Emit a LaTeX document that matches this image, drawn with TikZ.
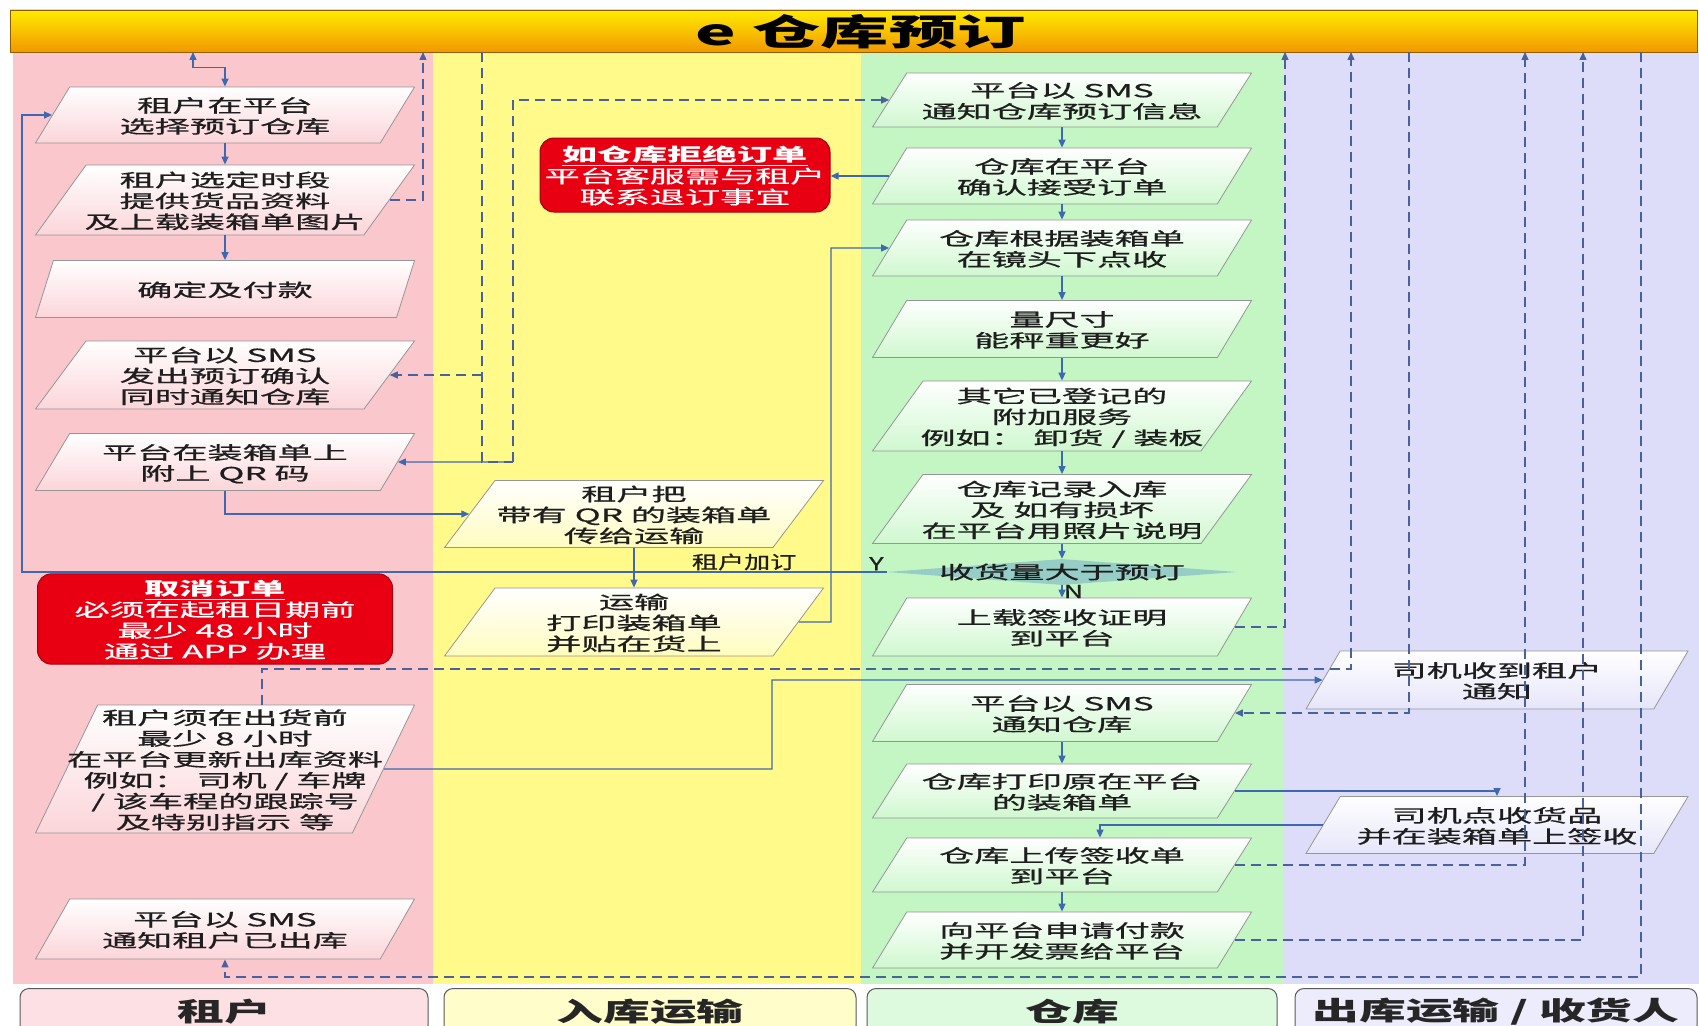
\documentclass[tikz,border=0pt]{standalone}
\usepackage{fontspec}
\usepackage{graphicx}
\setmainfont{Noto Sans CJK SC}[UprightFeatures={FakeBold=0.6}]
\usetikzlibrary{shapes.geometric,arrows.meta,calc}
\definecolor{laner}{RGB}{250,199,205}
\definecolor{laney}{RGB}{255,250,138}
\definecolor{laneg}{RGB}{195,246,195}
\definecolor{lanel}{RGB}{221,221,249}
\definecolor{titley}{RGB}{255,236,0}
\definecolor{titleo}{RGB}{242,152,0}
\definecolor{flowblue}{RGB}{62,104,178}
\definecolor{dashblue}{RGB}{72,98,160}
\definecolor{boxline}{RGB}{150,150,150}
\definecolor{notered}{RGB}{232,0,18}
\definecolor{txt}{RGB}{30,30,30}
\definecolor{diateal}{RGB}{150,205,198}
\newcommand{\wtxt}[2][1.95]{\makebox[0pt]{\raisebox{-3pt}[\height][\depth]{\scalebox{#1}[1]{\begin{tabular}{@{}c@{}}#2\end{tabular}}}}}
\newcommand{\stxt}[2][1.95]{\scalebox{#1}[1]{#2}}

\begin{document}
\begin{tikzpicture}[x=1pt,y=-1pt,>={Triangle[length=8pt,width=7pt]},
  pbox/.style={trapezium,trapezium left angle=52,trapezium right angle=128,
    trapezium stretches body,draw=boxline,line width=0.8pt,inner sep=1pt,
    minimum width=379pt,minimum height=#1pt,text=txt,font=\fontsize{18}{19}\selectfont},
  pred/.style={pbox=#1,top color=white,bottom color=laner!75!white},
  pyel/.style={pbox=#1,top color=white,bottom color=laney!55!white},
  pgrn/.style={pbox=#1,top color=white,bottom color=laneg!80!white},
  plav/.style={pbox=#1,top color=white,bottom color=lanel!75!white},
  note/.style={rectangle,rounded corners=14pt,fill=notered,draw=notered!70!black,
    line width=1pt,text=white,font=\fontsize{18}{19}\selectfont},
  lanetag/.style={rectangle,rounded corners=9pt,draw=black!65,line width=1pt,
    minimum width=#1pt,minimum height=46pt,anchor=north,text=black!85,
    font=\fontsize{26}{28}\selectfont\bfseries},
  flow/.style={draw=flowblue,line width=1.3pt},
  dline/.style={draw=dashblue,line width=1.3pt,dash pattern=on 10pt off 6pt},
  lbl/.style={font=\fontsize{18}{19}\selectfont,text=txt,inner sep=1pt}]
  \useasboundingbox (0,0) rectangle (1699,1025);
  \fill[white] (0,0) rectangle (1699,1025);
  \fill[laner] (13,52) rectangle (433,984);
  \fill[laney] (433,52) rectangle (861,984);
  \fill[laneg] (861,52) rectangle (1284,984);
  \fill[lanel] (1284,52) rectangle (1699,984);
  \path[top color=titley,bottom color=titleo,draw=titleo!60!black,line width=0.6pt] (10,10) rectangle (1697,52);
  \node[font=\fontsize{36}{40}\selectfont\bfseries] (title) at (861,32) {\stxt[1.9]{e 仓库预订}};

  \node[lanetag=408,fill=laner!55!white] (tagr) at (224,988) {\stxt[1.8]{租户}};
  \node[lanetag=412,fill=laney!45!white] (tagy) at (650,988) {\stxt[1.8]{入库运输}};
  \node[lanetag=410,fill=laneg!55!white] (tagg) at (1072,988) {\stxt[1.8]{仓库}};
  \node[lanetag=402,fill=lanel!55!white] (tagl) at (1496,988) {\stxt[1.8]{出库运输 / 收货人}};

  \node[pred=56] (select) at (225,115) {\wtxt{租户在平台\\选择预订仓库}};
  \node[pred=70] (supply) at (225,200) {\wtxt{租户选定时段\\提供货品资料\\及上载装箱单图片}};
  \node[pred=57] (pay) at (225,289) {\wtxt{确定及付款}};
  \node[pred=68] (smsok) at (225,375) {\wtxt{平台以 SMS\\发出预订确认\\同时通知仓库}};
  \node[pred=57] (qrcode) at (225,462) {\wtxt{平台在装箱单上\\附上 QR 码}};
  \node[note,minimum width=355pt,minimum height=83pt] (cancel) at (215,619)
    {\wtxt{\underline{\bfseries 取消订单}\\必须在起租日期前\\最少 48 小时\\通过 APP 办理}};
  \node[pred=128,trapezium left angle=64,trapezium right angle=116] (update) at (225,769)
    {\wtxt{租户须在出货前\\最少 8 小时\\在平台更新出库资料\\例如： 司机 / 车牌\\/ 该车程的跟踪号\\及特别指示 等}};
  \node[pred=60] (shipped) at (225,929) {\wtxt{平台以 SMS\\通知租户已出库}};

  \node[pyel=67] (handover) at (634,514) {\wtxt{租户把\\带有 QR 的装箱单\\传给运输}};
  \node[pyel=68] (label) at (634,622) {\wtxt{运输\\打印装箱单\\并贴在货上}};
  \node[note,minimum width=290pt,minimum height=74pt] (refuse) at (685,175)
    {\wtxt{\underline{\bfseries 如仓库拒绝订单}\\平台客服需与租户\\联系退订事宜}};

  \node[pgrn=54] (notify) at (1062,100) {\wtxt{平台以 SMS\\通知仓库预订信息}};
  \node[pgrn=56] (accept) at (1062,176) {\wtxt{仓库在平台\\确认接受订单}};
  \node[pgrn=56] (check) at (1062,248) {\wtxt{仓库根据装箱单\\在镜头下点收}};
  \node[pgrn=57] (measure) at (1062,329) {\wtxt{量尺寸\\能秤重更好}};
  \node[pgrn=70] (extra) at (1062,416) {\wtxt{其它已登记的\\附加服务\\例如： 卸货 / 装板}};
  \node[pgrn=69] (record) at (1062,509) {\wtxt{仓库记录入库\\及 如有损坏\\在平台用照片说明}};
  \node[diamond,shape aspect=13,minimum width=350pt,minimum height=26pt,inner sep=0pt,
    fill=diateal] (more) at (1062,572) {};
  \node[lbl] (moretxt) at (more) {\stxt{收货量大于预订}};
  \node[pgrn=58] (upload) at (1062,627) {\wtxt{上载签收证明\\到平台}};
  \node[pgrn=57] (smswh) at (1062,713) {\wtxt{平台以 SMS\\通知仓库}};
  \node[pgrn=54] (printout) at (1062,791) {\wtxt{仓库打印原在平台\\的装箱单}};
  \node[pgrn=54] (signup) at (1062,865) {\wtxt{仓库上传签收单\\到平台}};
  \node[pgrn=56] (invoice) at (1062,940) {\wtxt{向平台申请付款\\并开发票给平台}};

  \node[plav=58,minimum width=382pt] (drvnote) at (1497,680) {\wtxt{司机收到租户\\通知}};
  \node[plav=57,minimum width=382pt] (drvcheck) at (1497,825) {\wtxt{司机点收货品\\并在装箱单上签收}};

  \coordinate (topa) at (193,52);
  \coordinate (loopx) at (22,572);
  \coordinate (upx) at (831,248);
  \coordinate (outx) at (772,680);
  \coordinate (jn) at (513,462);
  \coordinate (upa) at (423,52);
  \coordinate (upb) at (482,52);
  \coordinate (upc) at (1285,52);
  \coordinate (upd) at (1351,52);
  \coordinate (linkd) at (1351,669);
  \coordinate (upe) at (1409,52);
  \coordinate (upf) at (1525,52);
  \coordinate (upg) at (1583,52);
  \coordinate (uph) at (1641,52);
  \coordinate (backh) at (1641,977);

  \draw[flow,<->] (topa) |- ($(select.north)+(0,-19)$) -- (select.north);
  \draw[flow,->] (select.south) -- (supply.north);
  \draw[flow,->] (supply.south) -- (pay.north);
  \draw[flow,->] (qrcode.south) |- (handover.west);
  \draw[flow,->] (handover.south) -- (label.north);
  \draw[flow,->] (label.east) -| (upx) -- (check.west);
  \draw[flow,->] (accept.west) -- (accept.west -| refuse.east);
  \draw[flow,->] (jn) -- (qrcode.east);
  \draw[flow,->] (more.west) -- node[lbl,above,pos=0.012] {\stxt[1.5]{Y}}
    node[lbl,above,pos=0.165] {\stxt[1.45]{租户加订}} (loopx) |- (select.west);
  \draw[flow,->] (notify.south) -- (accept.north);
  \draw[flow,->] (accept.south) -- (check.north);
  \draw[flow,->] (check.south) -- (measure.north);
  \draw[flow,->] (measure.south) -- (extra.north);
  \draw[flow,->] (extra.south) -- (record.north);
  \draw[flow,->] (record.south) -- (more.north);
  \draw[flow,->] (more.south) -- node[lbl,right] {\stxt[1.5]{N}} (upload.north);
  \draw[flow,->] (smswh.south) -- (printout.north);
  \draw[flow,->] (signup.south) -- (invoice.north);
  \draw[flow,->] (printout.east) -| (drvcheck.north);
  \draw[flow,->] (drvcheck.west) -| ([xshift=38pt]signup.north);
  \draw[flow,->] (update.east) -| (outx) -- (drvnote.west);

  \draw[dline,->] (supply.east) -| (upa);
  \draw[dline] (upb) |- (jn);
  \draw[dline,->] (upb |- smsok.east) -- (smsok.east);
  \draw[dline,->] (jn) |- (notify.west);
  \draw[dline,->] (upload.east) -| (upc);
  \draw[dline,->] ([xshift=37pt]update.north) |- (linkd) -- (upd);
  \draw[dline,->] (upe) |- (smswh.east);
  \draw[dline,->] (signup.east) -| (upf);
  \draw[dline,->] (invoice.east) -| (upg);
  \draw[dline,->] (uph) -- (backh) -| (shipped.south);
\end{tikzpicture}
\end{document}
